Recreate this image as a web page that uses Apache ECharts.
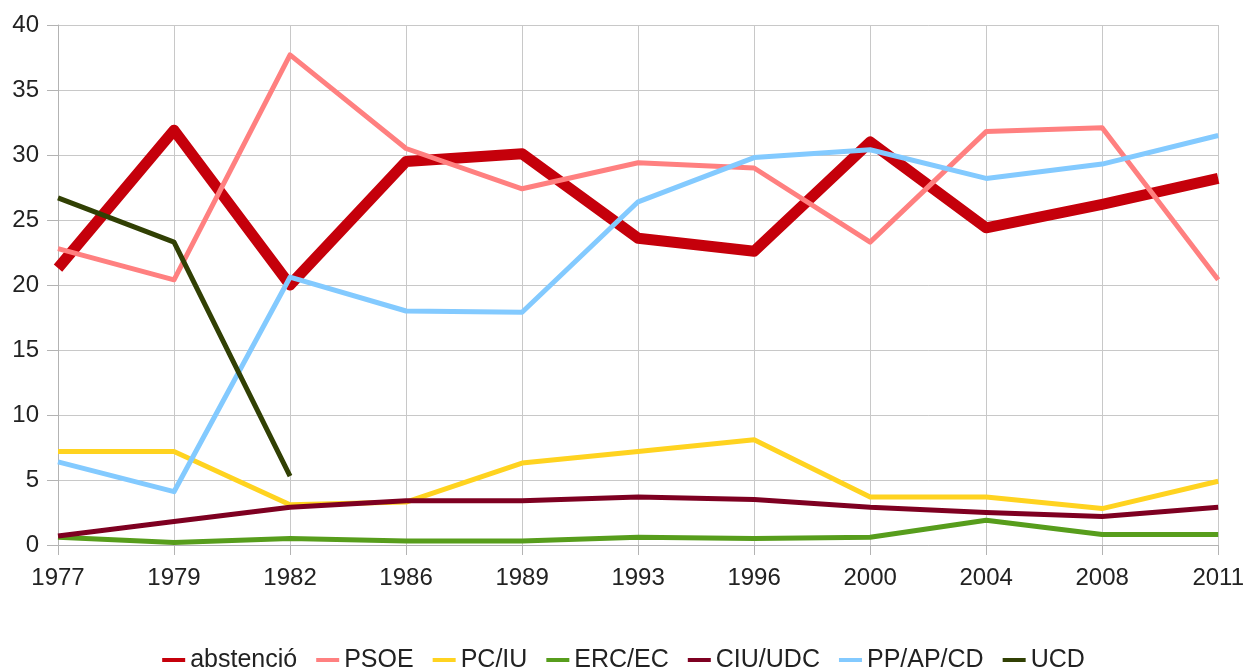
<!DOCTYPE html>
<html><head><meta charset="utf-8">
<script src="https://cdn.jsdelivr.net/npm/echarts@6/dist/echarts.min.js"></script>
<style>html,body{margin:0;padding:0;background:#fff}#c{width:1247px;height:671px}</style>
</head><body><div id="c"></div>
<script>
const years = ['1977','1979','1982','1986','1989','1993','1996','2000','2004','2008','2011'];
const abstencio = [21.3, 31.9, 20.0, 29.5, 30.1, 23.6, 22.6, 31.0, 24.4, 26.2, 28.2];
const psoe      = [22.8, 20.4, 37.7, 30.5, 27.4, 29.4, 29.0, 23.3, 31.8, 32.1, 20.4];
const pciu      = [7.2, 7.2, 3.1, 3.3, 6.3, 7.2, 8.1, 3.7, 3.7, 2.8, 4.9];
const ercec     = [0.6, 0.2, 0.5, 0.3, 0.3, 0.6, 0.5, 0.6, 1.9, 0.8, 0.8];
const ciuudc    = [0.7, 1.8, 2.9, 3.4, 3.4, 3.7, 3.5, 2.9, 2.5, 2.2, 2.9];
const ppapcd    = [6.4, 4.1, 20.6, 18.0, 17.9, 26.4, 29.8, 30.4, 28.2, 29.3, 31.5];
const ucd       = [26.7, 23.3, 5.3, null, null, null, null, null, null, null, null];
const yTicks = {min: 0, max: 40, interval: 5};

const names = ['abstenció','PSOE','PC/IU','ERC/EC','CIU/UDC','PP/AP/CD','UCD'];
const datas = [abstencio, psoe, pciu, ercec, ciuudc, ppapcd, ucd];
const colors = ['#c5000b','#ff8080','#ffd320','#579d1c','#7e0021','#83caff','#314004'];
const widths = [11, 5, 5, 5, 5, 5, 5];

const chart = echarts.init(document.getElementById('c'), null, {renderer:'canvas'});
chart.setOption({
  animation: false,
  backgroundColor: '#fff',
  grid: {left: 58, right: 28, top: 25, bottom: 126, containLabel: false},
  legend: {
    top: 646, left: 'center', padding: 0,
    data: names.map(n => ({name: n, icon: 'rect'})),
    itemWidth: 23, itemHeight: 4, itemGap: 19,
    textStyle: {fontFamily: 'Liberation Sans', fontSize: 25, color: '#222', lineHeight: 28}
  },
  xAxis: {
    type: 'category', data: years, boundaryGap: false,
    axisLine: {lineStyle: {color: '#b3b3b3', width: 1}},
    axisTick: {show: true, length: 10, lineStyle: {color: '#b3b3b3'}},
    splitLine: {show: true, lineStyle: {color: '#c8c8c8', width: 1}},
    axisLabel: {fontFamily: 'Liberation Sans', fontSize: 24, color: '#222', margin: 21}
  },
  yAxis: {
    type: 'value', min: yTicks.min, max: yTicks.max, interval: yTicks.interval,
    axisLine: {show: true, lineStyle: {color: '#b3b3b3', width: 1}},
    axisTick: {show: true, length: 11, lineStyle: {color: '#b3b3b3'}},
    splitLine: {show: true, lineStyle: {color: '#c8c8c8', width: 1}},
    axisLabel: {fontFamily: 'Liberation Sans', fontSize: 24, color: '#222', margin: 19}
  },
  series: names.map((n, i) => ({
    name: n, type: 'line', data: datas[i],
    showSymbol: false, symbol: 'none',
    color: colors[i],
    lineStyle: {color: colors[i], width: widths[i], join: 'round', cap: 'butt'},
    connectNulls: false
  }))
});
</script></body></html>
